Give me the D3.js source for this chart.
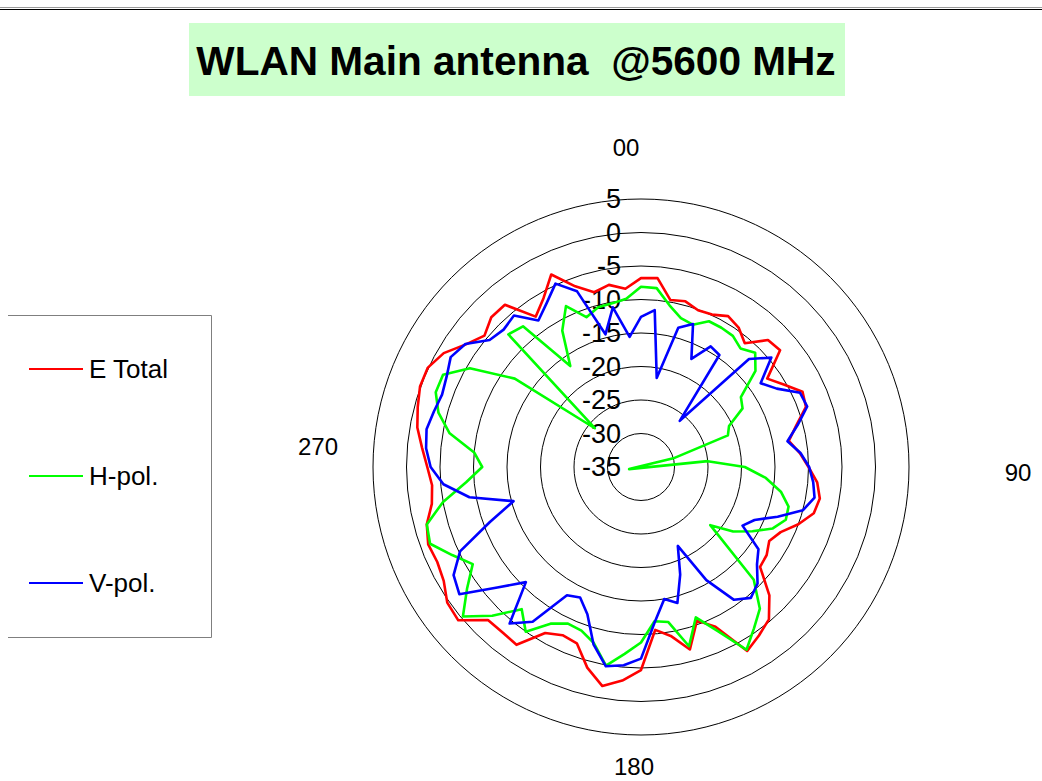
<!DOCTYPE html>
<html>
<head>
<meta charset="utf-8">
<script src="https://cdn.jsdelivr.net/npm/d3@7"></script>
<style>
  html, body { margin: 0; padding: 0; background: #ffffff; }
  svg { display: block; font-family: "Liberation Sans", Arial, sans-serif; }
</style>
</head>
<body>
<svg id="chart" width="1042" height="781"></svg>
<script>
// Measurement angles (degrees, clockwise from 0)
const angles = d3.range(0, 360, 5);

// Gain in dB at each angle
const eTotal = [
  -6.8, -6.7, -9.7, -9.4, -10.1, -9.9, -9.0, -9.6, -10.9, -8.2, -7.9, -12.0,
  -10.4, -8.4, -8.8, -11.0, -12.6, -11.2, -10.0, -8.6, -7.9, -8.3, -10.0, -12.0,
  -12.9, -12.1, -11.8, -7.9, -5.3, -4.3, -3.3, -8.7, -10.6, -6.8, -9.4, -10.6,
  -4.7, -3.0, -1.8, -4.0, -7.0, -7.3, -6.4, -2.6, -2.8, -2.7, 0.6, 0.3,
  -1.0, -1.45, -1.2, -1.9, -3.3, -3.7, -3.1, -2.2, -1.1, -0.5, 0.1, 0.1,
  -1.0, -3.1, -4.5, -3.4, -3.4, -7.6, -5.9, -3.3, -6.3, -8.0, -7.4, -8.3
];
const hPol = [
  -8.1, -8.2, -10.5, -12.0, -12.4, -11.0, -11.0, -11.1, -11.9, -10.9, -12.7, -16.8,
  -17.5, -20.5, -21.2, -30.0, -36.8, -25.0, -19.5, -16.3, -13.8, -12.2, -12.0, -13.3,
  -15.8, -18.2, -21.5, -11.2, -7.4, -5.6, -3.5, -8.0, -11.1, -7.3, -11.5, -11.9,
  -8.8, -7.0, -4.9, -7.8, -9.0, -9.2, -8.0, -5.0, -7.3, -3.6, -0.3, -3.3,
  -6.0, -3.9, -1.5, -1.9, -5.0, -8.8, -11.3, -10.0, -6.0, -3.7, -2.4, -2.4,
  -5.5, -12.0, -26.0, -7.0, -7.6, -16.6, -11.5, -8.5, -11.2, -10.3, -10.2, -9.8
];
const vPol = [
  -12.6, -11.5, -21.5, -13.5, -12.3, -17.2, -14.2, -14.6, -26.0, -12.2, -9.6, -13.2,
  -11.6, -8.8, -8.6, -10.8, -12.8, -11.1, -9.9, -9.2, -8.7, -10.0, -13.3, -16.3,
  -17.5, -13.6, -12.4, -10.4, -9.5, -10.8, -15.5, -22.0, -17.9, -14.0, -15.0, -11.7,
  -6.4, -5.3, -4.8, -7.6, -11.6, -13.5, -12.9, -6.8, -4.5, -10.7, -7.0, -1.9,
  -2.7, -5.2, -11.0, -15.3, -9.0, -5.4, -3.6, -2.8, -2.5, -3.0, -3.4, -3.0,
  -2.2, -3.0, -5.5, -6.0, -5.5, -8.3, -6.8, -4.8, -7.1, -14.5, -10.8, -15.5
];

const seriesNames = ["E Total", "H-pol.", "V-pol."];
const seriesColors = ["#ff0000", "#00ff00", "#0000ff"];
const radialTicks = [5, 0, -5, -10, -15, -20, -25, -30, -35];
const angleLabels = [
  { text: "00", x: 626, y: 148 },
  { text: "90", x: 1018, y: 473 },
  { text: "180", x: 634, y: 767 },
  { text: "270", x: 318, y: 447 }
];
const titleText = "WLAN Main antenna  @5600 MHz";

const svg = d3.select("#chart");
const W = 1042, H = 781;
const cx = 641, cy = 467;

// rule across the top of the page
svg.append("line").attr("x1", 0).attr("x2", W).attr("y1", 7.5).attr("y2", 7.5)
  .attr("stroke", "#9a9a9a").attr("stroke-width", 1);
svg.append("line").attr("x1", 0).attr("x2", W).attr("y1", 9.5).attr("y2", 9.5)
  .attr("stroke", "#000").attr("stroke-width", 1.2);

// title on a pale green band
svg.append("rect").attr("x", 189).attr("y", 23).attr("width", 656).attr("height", 73)
  .attr("fill", "#ccffcc");
svg.append("text").attr("x", 516).attr("y", 75)
  .attr("text-anchor", "middle")
  .attr("font-size", 40.6).attr("font-weight", "bold")
  .style("white-space", "pre")
  .text(titleText);

// scales
const r = d3.scaleLinear().domain([-35, 5]).range([0, 268]);
const a = d3.scaleLinear().domain([0, 360]).range([0, 2 * Math.PI]);

const plot = svg.append("g").attr("transform", `translate(${cx},${cy})`);

// circular gridlines
plot.selectAll("circle.grid")
  .data(radialTicks.filter(v => r(v) > 0))
  .join("circle")
  .attr("class", "grid")
  .attr("r", d => r(d))
  .attr("fill", "none")
  .attr("stroke", "#000")
  .attr("stroke-width", 1);

// radial value labels along the vertical axis
plot.selectAll("text.tick")
  .data(radialTicks)
  .join("text")
  .attr("class", "tick")
  .attr("x", -20)
  .attr("y", d => -r(d))
  .attr("dy", "0.35em")
  .attr("text-anchor", "end")
  .attr("font-size", 27)
  .text(d => d);

// angle labels
svg.selectAll("text.cat")
  .data(angleLabels)
  .join("text")
  .attr("class", "cat")
  .attr("x", d => d.x)
  .attr("y", d => d.y)
  .attr("dy", "0.35em")
  .attr("text-anchor", "middle")
  .attr("font-size", 24)
  .text(d => d.text);

// pattern traces
const line = d3.lineRadial()
  .angle((d, i) => a(angles[i]))
  .radius(d => r(d))
  .curve(d3.curveLinearClosed);

const series = [eTotal, hPol, vPol];
plot.selectAll("path.trace")
  .data(series)
  .join("path")
  .attr("class", "trace")
  .attr("d", d => line(d))
  .attr("fill", "none")
  .attr("stroke", (d, i) => seriesColors[i])
  .attr("stroke-width", 2.6)
  .attr("stroke-linejoin", "round");

// legend
const legend = svg.append("g");
legend.append("path")
  .attr("d", "M8,315.5 H211.5 V637.5 H8")
  .attr("fill", "none").attr("stroke", "#7f7f7f").attr("stroke-width", 1);
const legendY = [369, 476, 583];
seriesNames.forEach((name, i) => {
  legend.append("line")
    .attr("x1", 29).attr("x2", 83).attr("y1", legendY[i]).attr("y2", legendY[i])
    .attr("stroke", seriesColors[i]).attr("stroke-width", 2.2);
  legend.append("text")
    .attr("x", 89).attr("y", legendY[i]).attr("dy", "0.35em")
    .attr("font-size", 26)
    .text(name);
});
</script>
</body>
</html>
